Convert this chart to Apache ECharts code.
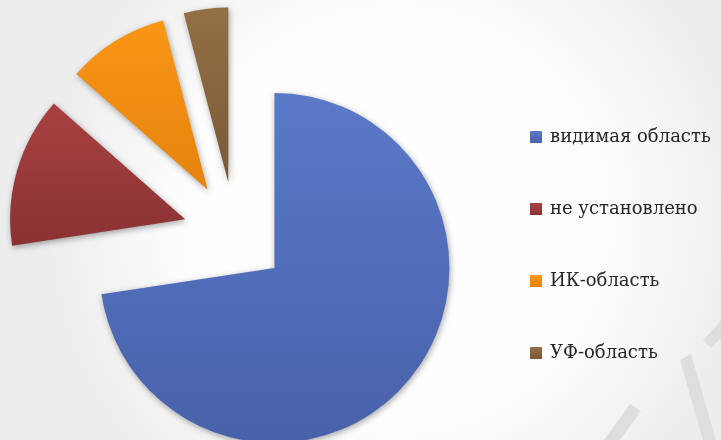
<!DOCTYPE html>
<html>
<head>
<meta charset="utf-8">
<script src="https://cdn.jsdelivr.net/npm/echarts@6/dist/echarts.min.js"></script>
<style>
html,body{margin:0;padding:0;background:#fff;}
#chart{width:721px;height:440px;}
</style>
</head>
<body>
<div id="chart"></div>
<script>
const categories = ['видимая область', 'не установлено', 'ИК-область', 'УФ-область'];
const values = [72.6, 13.9, 9.4, 4.1];
const topColors = ['#5b79c8', '#a84141', '#f99617', '#937046'];
const bottomColors = ['#4862aa', '#8a3232', '#e5830c', '#7a5835'];

function grad(i) {
  return new echarts.graphic.LinearGradient(0, 0, 0, 1, [
    { offset: 0, color: topColors[i] },
    { offset: 1, color: bottomColors[i] }
  ]);
}

const chart = echarts.init(document.getElementById('chart'), null, { renderer: 'canvas' });
const option = {
  animation: false,
  backgroundColor: {
    type: 'radial', x: 0.55, y: 0.5, r: 0.8,
    colorStops: [
      { offset: 0, color: '#ffffff' },
      { offset: 0.6, color: '#fdfdfd' },
      { offset: 1, color: '#ededed' }
    ]
  },
  graphic: [
    { type: 'polygon', silent: true, z: -1, shape: { points: [[604, 440], [630, 404], [641, 411], [620, 440]] }, style: { fill: '#dedede' } },
    { type: 'polygon', silent: true, z: -1, shape: { points: [[680, 360], [691, 354], [716, 440], [703, 440]] }, style: { fill: '#dedede' } },
    { type: 'polygon', silent: true, z: -1, shape: { points: [[703, 340], [721, 321], [721, 338], [711, 348]] }, style: { fill: '#dedede' } }
  ],
  legend: {
    orient: 'vertical',
    left: 525,
    top: 122,
    itemWidth: 12,
    itemHeight: 12,
    itemGap: 52,
    icon: 'rect',
    selectedMode: false,
    textStyle: {
      fontFamily: 'DejaVu Serif',
      fontSize: 18,
      color: '#262626',
      lineHeight: 20,
      padding: [0, 0, 0, 3]
    },
    data: categories.map((n, i) => ({ name: n, itemStyle: { color: grad(i) } }))
  },
  series: [{
    type: 'pie',
    center: [235, 234],
    radius: 175,
    startAngle: 90,
    clockwise: true,
    selectedMode: 'multiple',
    selectedOffset: 52,
    label: { show: false },
    labelLine: { show: false },
    emphasis: { disabled: true },
    itemStyle: {
      shadowBlur: 6,
      shadowColor: 'rgba(0,0,0,0.35)',
      shadowOffsetX: 1,
      shadowOffsetY: 2,
      borderWidth: 0
    },
    data: categories.map((n, i) => ({
      name: n,
      value: values[i],
      selected: true,
      itemStyle: { color: grad(i) }
    }))
  }]
};
chart.setOption(option);
</script>
</body>
</html>
